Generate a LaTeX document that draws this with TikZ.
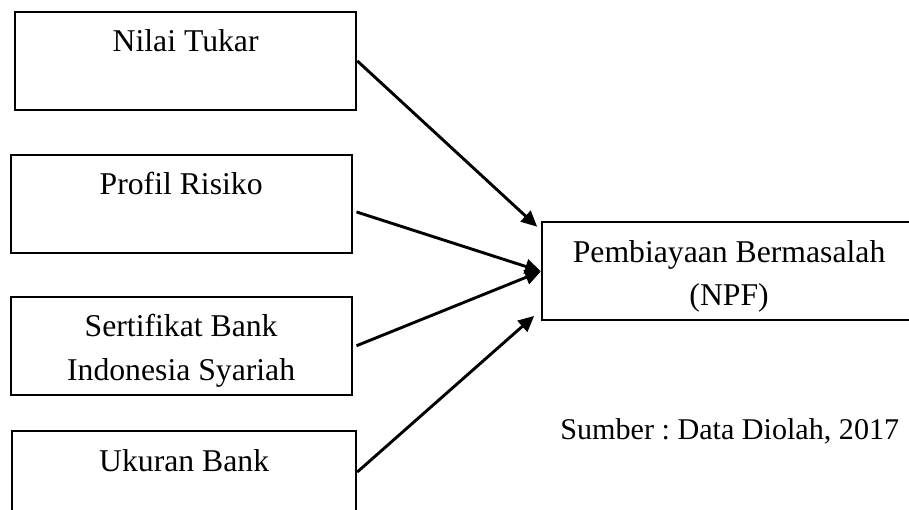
\documentclass[tikz,border=0pt]{standalone}
\usepackage{fontspec}
\setmainfont{Liberation Serif}
\usetikzlibrary{arrows.meta}
\frenchspacing

\begin{document}
\begin{tikzpicture}

\tikzset{box/.style = {shape=rectangle,draw,line width=0.75pt,minimum width=4.54cm,minimum height=1.30cm}}
\tikzset{txt/.style = {anchor=north,yshift=-6.9pt,inner sep=0pt,align=center,font=\fontsize{12}{16.3}\selectfont}}
\tikzset{edge/.style = {-{Triangle[length=6pt,width=5.5pt]},line width=1.1pt}}
\useasboundingbox (0,0) rectangle (12.094,-6.785);
%boxes
\node[box, label={[txt]north:Nilai Tukar}] (nilai) at (2.47,-0.81) {};
\node[box, label={[txt]north:Profil Risiko}] (profil) at (2.41,-2.71) {};
\node[box, label={[txt]north:Sertifikat Bank\\Indonesia Syariah}] (sbis) at (2.41,-4.60) {};
\node[box, minimum width=4.58cm, label={[txt]north:Ukuran Bank}] (ukuran) at (2.45,-6.39) {};
\node[box, minimum width=4.98cm, label={[txt]north:Pembiayaan Bermasalah\\(NPF)}] (npf) at (9.70,-3.61) {};
\node[anchor=base east, inner sep=0pt, font=\fontsize{11.4}{16}\selectfont] (sumber) at (11.97,-5.85) {Sumber : Data Diolah, 2017};
%arrows
\draw [edge] (nilai.east) -- ([xshift=-0.05cm,yshift=-0.07cm]npf.north west);
\draw [edge] ([xshift=0.05cm,yshift=-0.11cm]profil.east) -- (npf.west);
\draw [edge] ([xshift=0.05cm]sbis.east) -- (npf.west);
\draw [edge] ([yshift=0.11cm]ukuran.east) -- ([xshift=-0.09cm,yshift=0.07cm]npf.south west);

\end{tikzpicture}
\end{document}
